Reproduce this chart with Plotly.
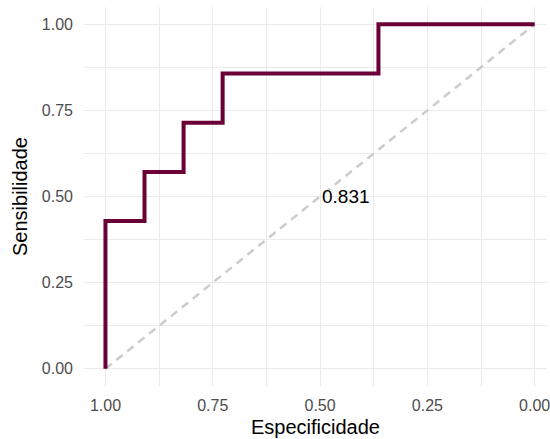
import plotly.graph_objects as go

# ROC curve step coordinates
especificidade = [1.0, 1.0, 0.909, 0.909, 0.818, 0.818, 0.727, 0.727, 0.364, 0.364, 0.0]
sensibilidade = [0.0, 0.429, 0.429, 0.571, 0.571, 0.714, 0.714, 0.857, 0.857, 1.0, 1.0]
auc_label = "0.831"
ref_x = [1.0, 0.0]
ref_y = [0.0, 1.0]
tick_vals = [0.0, 0.25, 0.5, 0.75, 1.0]
tick_text = ["0.00", "0.25", "0.50", "0.75", "1.00"]

fig = go.Figure()
fig.add_trace(go.Scatter(
    x=ref_x, y=ref_y, mode="lines",
    line=dict(color="#cccccc", width=2.5, dash="8px,6px"),
    hoverinfo="skip", showlegend=False,
))
fig.add_trace(go.Scatter(
    x=especificidade, y=sensibilidade, mode="lines",
    line=dict(color="#6B0036", width=4),
    showlegend=False,
))
fig.add_annotation(
    x=0.5, y=0.5, text=auc_label, showarrow=False,
    xanchor="left", yanchor="middle",
    font=dict(size=19, color="black"),
)

grid = "#ebebeb"
axis_common = dict(
    tickvals=tick_vals, ticktext=tick_text,
    showgrid=True, gridcolor=grid, gridwidth=1.2,
    zeroline=False, showline=False, ticks="",
    tickfont=dict(size=16, color="#4d4d4d"),
    ticklabeloverflow="allow",
    minor=dict(dtick=0.125, tick0=0.125, showgrid=True, gridcolor=grid, gridwidth=0.7),
)

fig.update_xaxes(
    **axis_common,
    range=[1.05, -0.0287],
    title=dict(text="Especificidade", font=dict(size=20, color="black"), standoff=6),
    ticklabelstandoff=8,
)
fig.update_yaxes(
    **axis_common,
    range=[-0.05, 1.05],
    title=dict(text="Sensibilidade", font=dict(size=20, color="black"), standoff=8),
    ticklabelstandoff=10,
)

fig.update_layout(
    width=550, height=439,
    margin=dict(l=84, r=0, t=7, b=53),
    paper_bgcolor="white", plot_bgcolor="white",
    font=dict(family="Liberation Sans, Arial, sans-serif"),
)

fig.write_html("out.html")
